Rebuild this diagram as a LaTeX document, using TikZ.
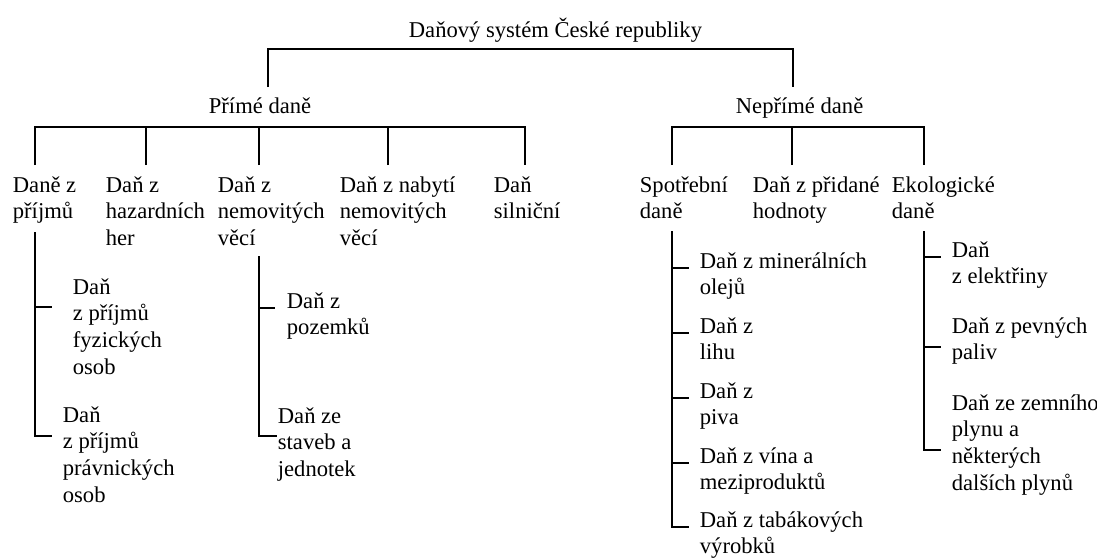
\documentclass[tikz,border=0pt]{standalone}
\usepackage{fontspec}
\setmainfont{Liberation Serif}
\usepackage{tikz}

% lines of a label, baseline on the first line
\newcommand{\lines}[1]{\begin{tabular}[t]{@{}l@{}}#1\end{tabular}}

\begin{document}
\begin{tikzpicture}[
            x = 0.5pt, y = -0.5pt, % one unit = one pixel, y downwards
            line width = 0.9pt, % line style
            every node/.style = {font=\fontsize{11.3}{13.35}\selectfont, inner sep=0pt},
            tax/.style = {anchor=base west}
        ]
\useasboundingbox (0,0) rectangle (1097,559);

% top level
\node[tax] (root) at (408,37) {Daňový systém České republiky};
\node[tax] (prime) at (208,113) {Přímé daně};
\node[tax] (neprime) at (735,113) {Nepřímé daně};
\coordinate (rp) at (268,87);
\coordinate (rn) at (793,87);
\coordinate (rbar) at (530,49);
\draw (rp) |- (rbar) -| (rn);

% direct taxes
\node[tax] (dprij) at (12,192) {\lines{Daně z\\příjmů}};
\node[tax] (dhaz) at (105,192) {\lines{Daň z\\hazardních\\her}};
\node[tax] (dnem) at (217,192) {\lines{Daň z\\nemovitých\\věcí}};
\node[tax] (dnab) at (339,192) {\lines{Daň z nabytí\\nemovitých\\věcí}};
\node[tax] (dsil) at (493,192) {\lines{Daň\\silniční}};
\coordinate (pbar) at (280,127);
\coordinate (p1) at (35,165);
\coordinate (p2) at (146,165);
\coordinate (p3) at (259,165);
\coordinate (p4) at (388,165);
\coordinate (p5) at (525,165);
\draw (p1) |- (pbar) -| (p5);
\draw (p2) -- (p2 |- pbar);
\draw (p3) -- (p3 |- pbar);
\draw (p4) -- (p4 |- pbar);

% indirect taxes
\node[tax] (dspo) at (639,192) {\lines{Spotřební\\daně}};
\node[tax] (ddph) at (752,192) {\lines{Daň z přidané\\hodnoty}};
\node[tax] (deko) at (891,192) {\lines{Ekologické\\daně}};
\coordinate (nbar) at (792,127);
\coordinate (n1) at (672,165);
\coordinate (n2) at (792,165);
\coordinate (n3) at (924,165);
\draw (n1) |- (nbar) -| (n3);
\draw (n2) -- (nbar);

% income taxes
\coordinate (prT) at (35,232);
\node[tax] (fyz) at (72,294) {\lines{Daň\\z příjmů\\fyzických\\osob}};
\node[tax] (prav) at (62,422) {\lines{Daň\\z příjmů\\právnických\\osob}};
\draw (prT) |- ([xshift=-10pt,yshift=-6.5pt]fyz.base west);
\draw (prT) |- ([xshift=-5pt,yshift=-7pt]prav.base west);

% property taxes
\coordinate (nmT) at (259,256);
\node[tax] (poz) at (286,308) {\lines{Daň z\\pozemků}};
\node[tax] (stav) at (277,423) {\lines{Daň ze\\staveb a\\jednotek}};
\draw (nmT) |- ([xshift=-5.5pt]poz.base west);
\draw (nmT) |- ([yshift=-6.5pt]stav.base west);

% excise taxes
\coordinate (spT) at (672,231);
\node[tax] (olej) at (699,268) {\lines{Daň z minerálních\\olejů}};
\node[tax] (lih) at (699,333) {\lines{Daň z\\lihu}};
\node[tax] (piv) at (699,398) {\lines{Daň z\\piva}};
\node[tax] (vin) at (699,463) {\lines{Daň z vína a\\meziproduktů}};
\node[tax] (tab) at (699,527) {\lines{Daň z tabákových\\výrobků}};
\foreach \n in {olej,lih,piv,vin,tab}
  \draw (spT) |- ([xshift=-5pt]\n.base west);

% ecological taxes
\coordinate (ekT) at (924,231);
\node[tax] (elek) at (951,257) {\lines{Daň\\z elektřiny}};
\node[tax] (pev) at (951,333) {\lines{Daň z pevných\\paliv}};
\node[tax] (plyn) at (951,410) {\lines{Daň ze zemního\\plynu a\\některých\\dalších plynů}};
\draw (ekT) |- ([xshift=-5pt]elek.base west);
\draw (ekT) |- ([xshift=-5pt,yshift=-7pt]pev.base west);
\draw (ekT) |- ([xshift=-5pt,yshift=-20pt]plyn.base west);
\end{tikzpicture}
\end{document}
